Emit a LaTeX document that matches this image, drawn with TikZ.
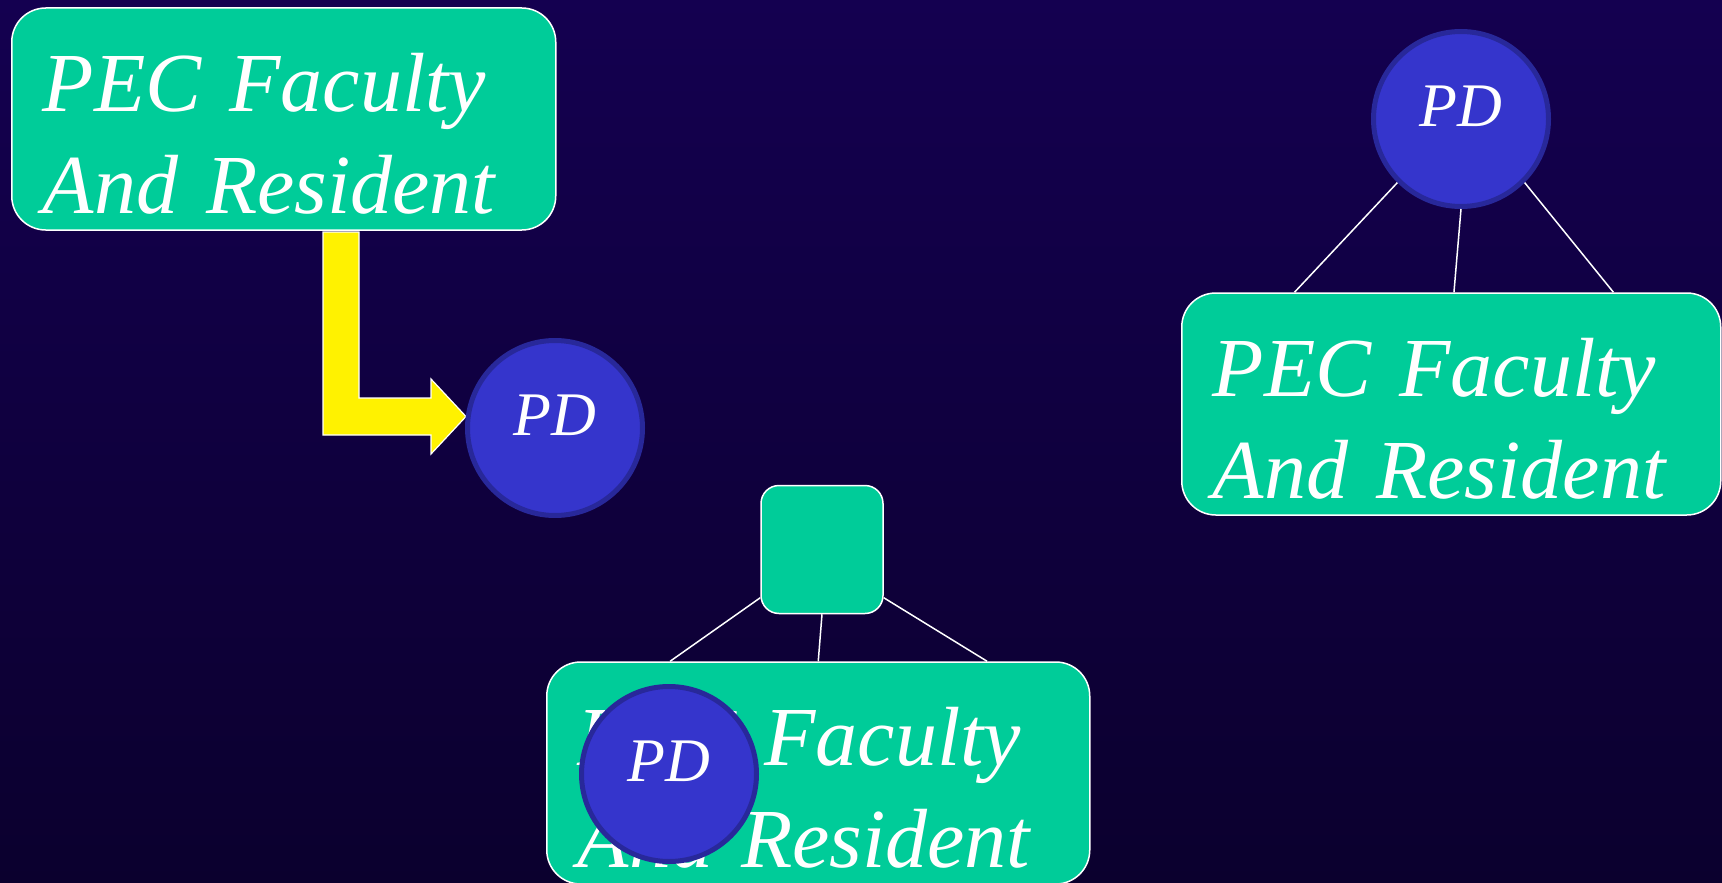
\documentclass[tikz,border=0pt]{standalone}
\usepackage{tikz}
\usepackage{xcolor}
\usepackage{fontspec}
\setmainfont{Liberation Serif}
\usetikzlibrary{shapes.geometric, positioning, calc}

\definecolor{bgtop}{HTML}{140050}
\definecolor{bgbot}{HTML}{0B002E}
\definecolor{pecgreen}{HTML}{00CC99}
\definecolor{pdblue}{HTML}{3535CC}
\definecolor{pdrim}{HTML}{28289A}

\begin{document}
\begin{tikzpicture}[x=1pt, y=-1pt,
    pecbox/.style={draw=white, line width=1.5pt, fill=pecgreen, rounded corners=34pt,
        text=white, align=left, inner xsep=31pt, inner ysep=0pt,
        text height=103pt, text depth=119pt, anchor=base west,
        font=\fontsize{84}{102}\selectfont\itshape},
    pdnode/.style={circle, draw=pdrim, line width=5pt, fill=pdblue, minimum size=175pt,
        inner sep=0pt, text=white, text depth=25pt, font=\fontsize{62}{70}\selectfont\itshape},
    sqbox/.style={draw=white, line width=1.5pt, fill=pecgreen, rounded corners=18pt,
        minimum width=122pt, minimum height=128pt},
    link/.style={draw=white, line width=1.5pt},
    yarrow/.style={draw=white, line width=1.2pt, fill=yellow, line join=miter}]

    % background
    \shade[top color=bgtop, middle color=bgtop!80!bgbot, bottom color=bgbot] (0,0) rectangle (1722,883);
    \useasboundingbox (0,0) rectangle (1722,883);

    % left: box and arrow to PD
    \node[pecbox, text width=482pt] (fac1) at (11,111) {PEC Faculty\\And Resident};
    \draw[yarrow] (323,232) -- (323,435) -- (431,435) -- (431,454) -- (466,416.5)
        -- (431,379) -- (431,398) -- (359,398) -- (359,232) -- cycle;
    \node[pdnode] (pd1) at (555,428) {PD};

    % right: PD over the box
    \node[pdnode] (pd2) at (1461,119) {PD};
    \node[pecbox, text width=477pt] (fac2) at (1181,396) {PEC Faculty\\And Resident};
    \draw[link] (pd2.225) -- ($(fac2.north west)!0.21!(fac2.north east)$);
    \draw[link] (pd2.south) -- ($(fac2.north west)!0.505!(fac2.north east)$);
    \draw[link] (pd2.315) -- ($(fac2.north west)!0.80!(fac2.north east)$);

    % bottom: empty box, PD in the box
    \node[sqbox] (sq) at (822,549.5) {};
    \node[pecbox, text width=481pt] (fac3) at (546,765) {PEC Faculty\\And Resident};
    \draw[link] (sq.218) -- ($(fac3.north west)!0.228!(fac3.north east)$);
    \draw[link] (sq.south) -- ($(fac3.north west)!0.50!(fac3.north east)$);
    \draw[link] (sq.322) -- ($(fac3.north west)!0.81!(fac3.north east)$);
    \node[pdnode] (pd3) at (669,774) {PD};
\end{tikzpicture}
\end{document}
